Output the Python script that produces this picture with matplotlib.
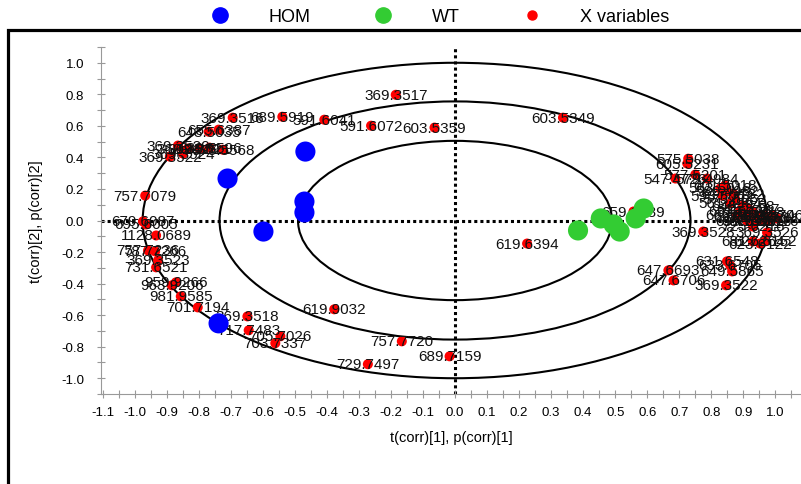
import numpy as np
import matplotlib
matplotlib.use("Agg")
import matplotlib.pyplot as plt
from matplotlib.patches import Ellipse, Rectangle
from matplotlib.lines import Line2D

plt.rcParams['font.family'] = ['Liberation Sans', 'DejaVu Sans']

# --- data --------------------------------------------------------------
hom_x = [-0.467, -0.710, -0.470, -0.470, -0.598, -0.738]
hom_y = [0.437, 0.266, 0.120, 0.051, -0.070, -0.652]

wt_x = [0.384, 0.455, 0.495, 0.514, 0.564, 0.589]
wt_y = [-0.063, 0.013, -0.025, -0.070, 0.013, 0.076]

var_labels = [
    "369.3517", "369.3516", "689.5919", "591.6041", "591.6072", "603.5359",
    "603.5349", "655.6387", "643.5035", "369.3520", "369.3519", "369.3521",
    "689.5596", "369.3522", "675.5568", "369.3524", "757.7079", "679.6087",
    "695.6005", "1128.0689", "757.7236", "787.7266", "369.3523", "731.6521",
    "963.9206", "959.9266", "981.9585", "701.7194", "369.3518", "717.7483",
    "705.7026", "703.7337", "619.9032", "757.7720", "729.7497", "689.7159",
    "619.6394", "659.6689",
    "575.5038", "605.5231", "547.4726", "577.5201", "579.4984", "563.5018",
    "601.5018", "589.4982", "593.5062", "617.5182", "573.5052", "561.4994",
    "645.5758", "633.5426", "615.5437", "659.5718", "663.5941", "691.6254",
    "671.5776", "685.5870", "703.5746", "719.6016", "687.6065", "675.5916",
    "713.5916", "699.6107", "725.6216", "369.3526", "369.3528", "681.6264",
    "623.6122", "627.6152", "631.6548", "633.6705", "649.5865", "647.6693",
    "647.6706", "369.3522",
]
var_x = [
    -0.185, -0.694, -0.539, -0.408, -0.262, -0.064,
    0.337, -0.738, -0.769, -0.865, -0.834, -0.797,
    -0.766, -0.890, -0.725, -0.849, -0.967, -0.974,
    -0.964, -0.933, -0.958, -0.936, -0.927, -0.933,
    -0.884, -0.871, -0.856, -0.803, -0.648, -0.644,
    -0.545, -0.561, -0.377, -0.166, -0.272, -0.017,
    0.225, 0.557,
    0.728, 0.725, 0.688, 0.750, 0.787, 0.828,
    0.843, 0.849, 0.834, 0.868, 0.874, 0.859,
    0.899, 0.890, 0.915, 0.930, 0.880, 0.905,
    0.943, 0.961, 0.989, 1.005, 0.930, 0.952,
    0.974, 0.911, 0.930, 0.974, 0.775, 0.930,
    0.952, 0.967, 0.849, 0.859, 0.865, 0.666,
    0.682, 0.846,
]
var_y = [
    0.797, 0.652, 0.658, 0.639, 0.601, 0.589,
    0.652, 0.576, 0.563, 0.475, 0.456, 0.456,
    0.462, 0.405, 0.449, 0.424, 0.158, -0.006,
    -0.025, -0.095, -0.190, -0.196, -0.253, -0.297,
    -0.411, -0.392, -0.481, -0.551, -0.608, -0.696,
    -0.734, -0.778, -0.563, -0.766, -0.911, -0.861,
    -0.146, 0.057,
    0.392, 0.361, 0.266, 0.291, 0.266, 0.203,
    0.222, 0.184, 0.158, 0.171, 0.139, 0.108,
    0.095, 0.063, 0.076, 0.057, 0.032, 0.025,
    0.025, 0.032, 0.032, 0.013, -0.006, 0.000,
    0.000, 0.000, -0.038, -0.076, -0.070, -0.133,
    -0.146, -0.133, -0.259, -0.285, -0.323, -0.316,
    -0.380, -0.411,
]

# ellipse semi-axes (x, y)
ellipse_rx = [0.975, 0.735, 0.49]
ellipse_ry = [1.0, 0.755, 0.505]

# --- figure ------------------------------------------------------------
fig = plt.figure(figsize=(8.01, 4.85), dpi=100)
ax = fig.add_axes([101 / 801, 1 - 395 / 485, 700 / 801, 347 / 485])

ax.axhline(0, color='black', lw=2.2, ls=(0, (1, 1)), zorder=1)
ax.axvline(0, color='black', lw=2.2, ls=(0, (1, 1)), zorder=1)

for rx, ry in zip(ellipse_rx, ellipse_ry):
    ax.add_patch(Ellipse((0, 0), 2 * rx, 2 * ry, fill=False,
                         edgecolor='black', lw=1.5, zorder=2))

ax.scatter(var_x, var_y, s=52, color='#ff0000', edgecolors='none', zorder=3)
for lab, x, y in zip(var_labels, var_x, var_y):
    ax.text(x, y, lab, ha='center', va='center', fontsize=11,
            color='#111111', zorder=4)

ax.scatter(hom_x, hom_y, s=210, color='#0000ff', edgecolors='none', zorder=5)
ax.scatter(wt_x, wt_y, s=210, color='#33cc33', edgecolors='none', zorder=5)

ax.set_xlim(-1.105, 1.08)
ax.set_ylim(-1.1, 1.1)

xt = np.round(np.arange(-1.1, 1.001, 0.1), 1)
ax.set_xticks(xt)
ax.set_xticklabels([f"{v:.1f}".replace("-0.0", "0.0") for v in xt])
ax.set_xticks(np.round(np.arange(-1.1, 1.08, 0.05), 2), minor=True)
yt = np.round(np.arange(-1.0, 1.001, 0.2), 1)
ax.set_yticks(yt)
ax.set_yticklabels([f"{v:.1f}".replace("-0.0", "0.0") for v in yt])
ax.set_yticks(np.round(np.arange(-1.1, 1.101, 0.1), 1), minor=True)

ax.tick_params(which='both', direction='inout', length=6, width=0.8,
               color='#999999', labelsize=9.5)
ax.tick_params(axis='x', pad=6)
ax.tick_params(axis='y', pad=9)

for side in ['top', 'right']:
    ax.spines[side].set_visible(False)
for side in ['left', 'bottom']:
    ax.spines[side].set_color('#999999')
    ax.spines[side].set_linewidth(0.8)

ax.set_xlabel('t(corr)[1], p(corr)[1]', fontsize=10.5, labelpad=8)
ax.set_ylabel('t(corr)[2], p(corr)[2]', fontsize=10.5, labelpad=13)

# outer frame
fig.patches.append(Rectangle((8 / 801, -0.05), 1.2, 1 - 31 / 485 + 0.05,
                             transform=fig.transFigure, fill=False,
                             edgecolor='black', lw=2.3))

handles = [
    Line2D([], [], ls='none', marker='o', markersize=11, color='#0000ff', label='HOM'),
    Line2D([], [], ls='none', marker='o', markersize=11, color='#33cc33', label='WT'),
    Line2D([], [], ls='none', marker='o', markersize=6.5, color='#ff0000', label='X variables'),
]
fig.legend(handles=handles, loc='center', bbox_to_anchor=(0.544, 1 - 18 / 485),
           ncol=3, frameon=False, fontsize=13, handlelength=2,
           handletextpad=1.7, columnspacing=3.0, borderpad=0)

fig.savefig('out.png', dpi=100)
